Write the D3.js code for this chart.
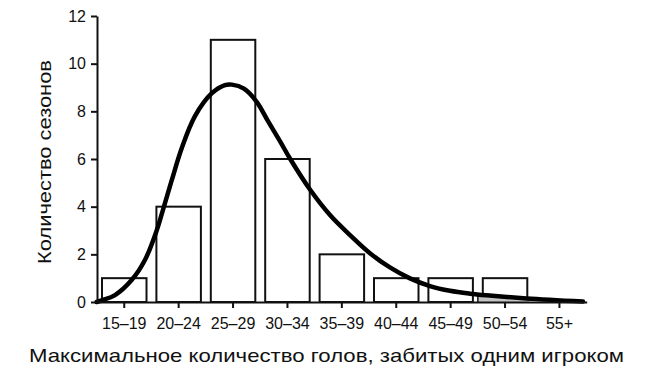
<!DOCTYPE html>
<html>
<head>
<meta charset="utf-8">
<script src="https://cdn.jsdelivr.net/npm/d3@7"></script>
<style>
  html, body { margin: 0; padding: 0; background: #fff; }
  svg { display: block; }
  text { font-family: "Liberation Sans", Arial, Helvetica, sans-serif; fill: #111; }
</style>
</head>
<body>
<script>
// ---- data ----
const categories = ["15–19", "20–24", "25–29", "30–34", "35–39", "40–44", "45–49", "50–54", "55+"];
const seasonCounts = [1, 4, 11, 6, 2, 1, 1, 1, 0];
const binCenters = [17, 22, 27, 32, 37, 42, 47, 52, 57];
const yTicks = [0, 2, 4, 6, 8, 10, 12];
// fitted curve (goals -> seasons)
const curveGoals  = [14.46, 15.0, 16.15, 17.68, 18.9, 19.98, 20.58, 21.36, 22.28, 23.5, 25.03, 26.26, 26.9, 28.0, 29.17, 30.2, 31.31, 32.23, 34.07, 35.91, 37.75, 39.58, 41.42, 43.26, 45.1, 46.94, 48.78, 50.31, 53.98, 59.16];
const curveValues = [0.0,   0.08, 0.29,  0.92,  1.76, 3.0,   3.9,   5.1,   6.45,  7.8,  8.75,  9.1,   9.12, 8.95, 8.4,   7.6,  6.75,  6.02,  4.72,  3.65,  2.81,  2.05,  1.45,  0.99,  0.67, 0.47,  0.35,  0.28,  0.15,  0.02];
const shadeRange = [49.5, 54.1];
const xTitle = "Максимальное количество голов, забитых одним игроком";
const yTitle = "Количество сезонов";

// ---- layout ----
const W = 650, H = 378;
const svg = d3.select("body").append("svg").attr("width", W).attr("height", H);

const x = d3.scaleBand().domain(categories).range([97, 586.7]).paddingInner(0.182).paddingOuter(0.092);
const y = d3.scaleLinear().domain([0, 12]).range([302, 16]);
const bw = x.bandwidth();
const xg = d3.scaleLinear()
  .domain([binCenters[0], binCenters[binCenters.length - 1]])
  .range([x(categories[0]) + bw / 2, x(categories[categories.length - 1]) + bw / 2]);

// bars
svg.append("g").selectAll("rect")
  .data(categories.map((c, i) => ({ c, v: seasonCounts[i] })).filter(d => d.v > 0))
  .join("rect")
  .attr("x", d => x(d.c))
  .attr("y", d => y(d.v))
  .attr("width", bw)
  .attr("height", d => y(0) - y(d.v))
  .attr("fill", "#fff")
  .attr("stroke", "#111")
  .attr("stroke-width", 2);

const pts = curveGoals.map((g, i) => [g, curveValues[i]]);
const curveType = d3.curveCatmullRom.alpha(0.5);

// shaded area under curve
svg.append("clipPath").attr("id", "shadeClip").append("rect")
  .attr("x", xg(shadeRange[0])).attr("y", 0)
  .attr("width", xg(shadeRange[1]) - xg(shadeRange[0])).attr("height", y(0));
svg.append("path")
  .datum(pts)
  .attr("clip-path", "url(#shadeClip)")
  .attr("fill", "#c4c4c4")
  .attr("d", d3.area().x(d => xg(d[0])).y0(y(0)).y1(d => y(d[1])).curve(curveType));
svg.append("line")
  .attr("x1", xg(shadeRange[0])).attr("x2", xg(shadeRange[0]))
  .attr("y1", y(0)).attr("y2", y(0.3))
  .attr("stroke", "#111").attr("stroke-width", 1.5);

// curve
svg.append("path")
  .datum(pts)
  .attr("fill", "none")
  .attr("stroke", "#000")
  .attr("stroke-width", 4.5)
  .attr("stroke-linecap", "round")
  .attr("d", d3.line().x(d => xg(d[0])).y(d => y(d[1])).curve(curveType));

// axes
const yAxis = svg.append("g").attr("transform", "translate(97,0)")
  .call(d3.axisLeft(y).tickValues(yTicks).tickSize(6).tickSizeOuter(0).tickPadding(5));
const xAxis = svg.append("g").attr("transform", `translate(0,${y(0)})`)
  .call(d3.axisBottom(x).tickSize(6).tickSizeOuter(0).tickPadding(10));
[yAxis, xAxis].forEach(a => {
  a.select(".domain").attr("stroke", "#111").attr("stroke-width", 2);
  a.selectAll(".tick line").attr("stroke", "#111").attr("stroke-width", 2);
  a.selectAll(".tick text").attr("font-size", 16).attr("fill", "#111")
    .attr("font-family", "'Liberation Sans', Arial, Helvetica, sans-serif");
});

// titles
svg.append("text")
  .attr("x", 326.5).attr("y", 362)
  .attr("text-anchor", "middle")
  .attr("font-size", 19)
  .attr("textLength", 595).attr("lengthAdjust", "spacingAndGlyphs")
  .text(xTitle);
svg.append("text")
  .attr("transform", "translate(51,162) rotate(-90)")
  .attr("text-anchor", "middle")
  .attr("font-size", 19)
  .attr("textLength", 204).attr("lengthAdjust", "spacingAndGlyphs")
  .text(yTitle);
</script>
</body>
</html>
